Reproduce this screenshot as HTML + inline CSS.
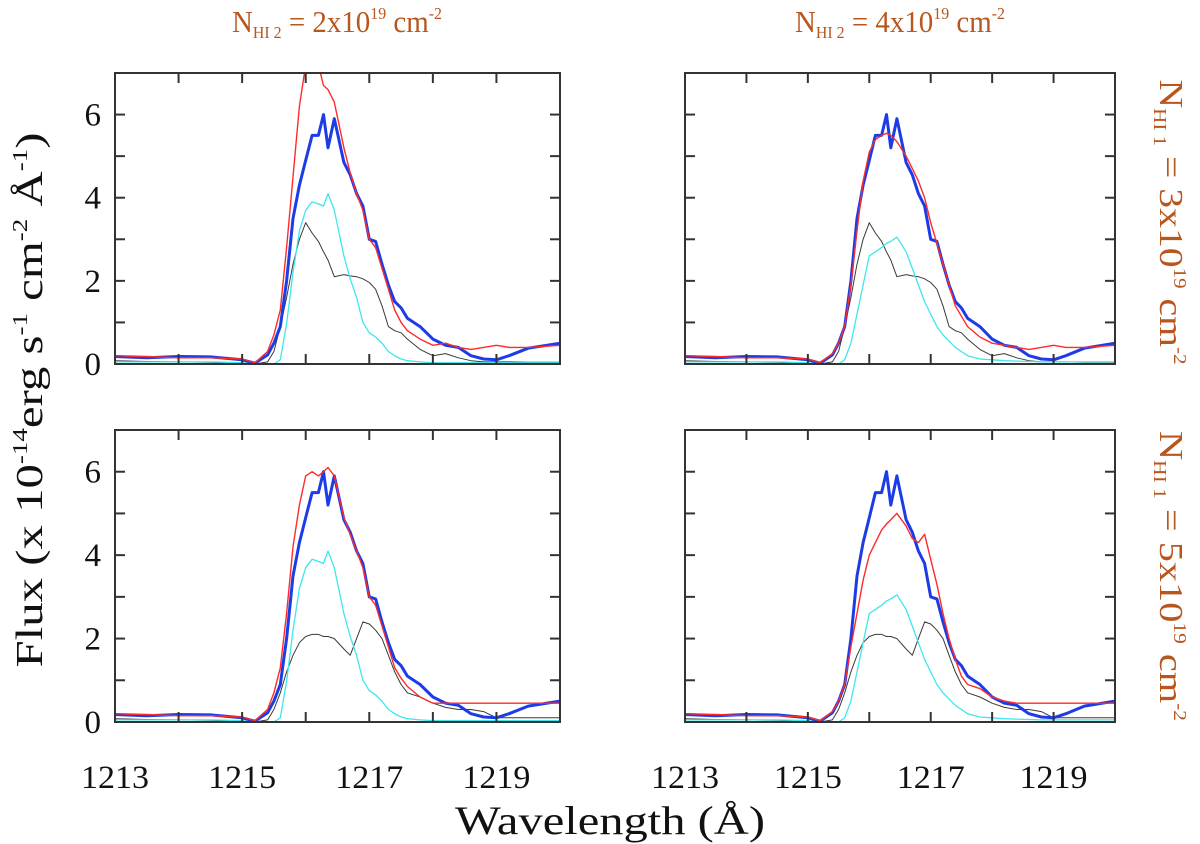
<!DOCTYPE html>
<html><head><meta charset="utf-8"><style>body{margin:0;background:#fff}svg{display:block}text{font-family:"Liberation Serif",serif}</style></head>
<body>
<svg id="fig" width="1200" height="844" viewBox="0 0 1200 844">
<g id="labels" fill="#b8561e" font-size="31">
<text x="337" y="32" text-anchor="middle" textLength="210" lengthAdjust="spacingAndGlyphs">N<tspan font-size="17" dy="6">HI 2</tspan><tspan dy="-6"> = 2x10</tspan><tspan font-size="17" dy="-13">19</tspan><tspan dy="13">  cm</tspan><tspan font-size="17" dy="-13">-2</tspan></text>
<text x="900" y="32" text-anchor="middle" textLength="210" lengthAdjust="spacingAndGlyphs">N<tspan font-size="17" dy="6">HI 2</tspan><tspan dy="-6"> = 4x10</tspan><tspan font-size="17" dy="-13">19</tspan><tspan dy="13">  cm</tspan><tspan font-size="17" dy="-13">-2</tspan></text>
<text transform="translate(1160,222) rotate(90)" text-anchor="middle" font-size="34" textLength="285" lengthAdjust="spacingAndGlyphs">N<tspan font-size="18" dy="6">HI 1</tspan><tspan dy="-6"> = 3x10</tspan><tspan font-size="18" dy="-14">19</tspan><tspan dy="14">  cm</tspan><tspan font-size="18" dy="-14">-2</tspan></text>
<text transform="translate(1160,576) rotate(90)" text-anchor="middle" font-size="34" textLength="290" lengthAdjust="spacingAndGlyphs">N<tspan font-size="18" dy="6">HI 1</tspan><tspan dy="-6"> = 5x10</tspan><tspan font-size="18" dy="-14">19</tspan><tspan dy="14">  cm</tspan><tspan font-size="18" dy="-14">-2</tspan></text>
</g>
<text x="610" y="834" text-anchor="middle" font-size="40" textLength="310" lengthAdjust="spacingAndGlyphs" fill="#111">Wavelength (Å)</text>
<text transform="translate(42,400) rotate(-90)" text-anchor="middle" font-size="38" textLength="535" lengthAdjust="spacingAndGlyphs" fill="#111">Flux  (x 10<tspan font-size="21" dy="-15">-14</tspan><tspan dy="15">erg s</tspan><tspan font-size="21" dy="-15">-1</tspan><tspan dy="15"> cm</tspan><tspan font-size="21" dy="-15">-2</tspan><tspan dy="15"> Å</tspan><tspan font-size="21" dy="-15">-1</tspan><tspan dy="15">)</tspan></text>
</svg>
<script>
const wavelengths=[1213,1213.5,1214,1214.5,1215,1215.2,1215.4,1215.5,1215.6,1215.7,1215.8,1215.9,1216,1216.1,1216.2,1216.28,1216.35,1216.45,1216.6,1216.7,1216.8,1216.9,1217,1217.1,1217.2,1217.3,1217.4,1217.5,1217.6,1217.8,1218,1218.2,1218.4,1218.6,1218.8,1219,1219.2,1219.5,1220];
const observedBlue=[0.18,0.15,0.18,0.17,0.1,0.02,0.22,0.5,0.9,2.0,3.5,4.3,4.9,5.5,5.5,6.0,5.2,5.9,4.85,4.55,4.1,3.8,3.0,2.95,2.4,1.9,1.5,1.35,1.1,0.9,0.6,0.45,0.4,0.2,0.12,0.1,0.2,0.38,0.5];
const redTL=[0.2,0.18,0.15,0.15,0.12,0.03,0.3,0.7,1.3,2.8,4.5,6.2,7.2,7.3,7.2,6.7,6.6,6.3,5.2,4.6,4.1,3.7,3.0,2.8,2.3,1.8,1.3,1.0,0.8,0.6,0.45,0.5,0.4,0.35,0.4,0.45,0.4,0.4,0.45];
const redTR=[0.2,0.18,0.15,0.15,0.12,0.03,0.25,0.5,0.9,1.9,3.2,4.4,5.1,5.4,5.5,5.55,5.5,5.35,5.0,4.7,4.4,4.0,3.4,2.9,2.4,1.9,1.4,1.15,0.9,0.65,0.5,0.45,0.4,0.35,0.4,0.45,0.4,0.4,0.45];
const redBL=[0.2,0.18,0.15,0.15,0.12,0.03,0.3,0.7,1.3,2.6,4.2,5.2,5.9,6.0,5.9,6.0,6.1,5.9,4.9,4.5,4.1,3.7,3.0,2.8,2.3,1.8,1.3,1.05,0.85,0.6,0.45,0.45,0.45,0.45,0.45,0.45,0.45,0.45,0.45];
const redBR=[0.2,0.18,0.15,0.15,0.12,0.03,0.25,0.5,0.9,1.8,2.6,3.4,4.0,4.3,4.6,4.75,4.85,5.0,4.7,4.4,4.3,4.5,3.9,3.3,2.6,2.0,1.5,1.1,0.9,0.8,0.6,0.5,0.45,0.45,0.45,0.45,0.45,0.45,0.45];
const cyanLeft=[0.05,0.05,0.05,0.05,0.03,0,0,0,0.1,0.97,2.2,3.2,3.7,3.9,3.85,3.8,4.1,3.7,2.6,2.05,1.6,1.0,0.75,0.65,0.5,0.3,0.2,0.12,0.08,0.05,0.03,0.03,0.03,0.03,0.03,0.03,0.03,0.03,0.03];
const cyanRight=[0.05,0.05,0.05,0.05,0.03,0,0,0,0.1,0.5,1.2,1.9,2.6,2.7,2.8,2.9,2.95,3.05,2.7,2.3,1.9,1.5,1.2,0.9,0.7,0.55,0.4,0.3,0.2,0.12,0.1,0.08,0.07,0.06,0.05,0.05,0.05,0.05,0.05];
const blackTop=[0.08,0.06,0.05,0.04,0.02,0,0.05,0.3,0.9,1.6,2.4,3.0,3.4,3.15,2.95,2.7,2.5,2.1,2.15,2.12,2.1,2.05,1.96,1.8,1.4,0.9,0.8,0.75,0.6,0.35,0.2,0.25,0.15,0.08,0.05,0.05,0.05,0.04,0.04];
const blackBottom=[0.08,0.06,0.05,0.04,0.02,0,0.05,0.3,0.7,1.2,1.6,1.9,2.05,2.1,2.1,2.05,2.05,2.0,1.75,1.6,2.0,2.4,2.35,2.2,2.0,1.6,1.2,0.9,0.7,0.6,0.45,0.35,0.3,0.3,0.25,0.1,0.1,0.1,0.1];
const yTickLabels=[0,2,4,6];
const xTickLabels=[1213,1215,1217,1219];

const NS='http://www.w3.org/2000/svg';
const svg=document.getElementById('fig');
function mk(tag,attrs,parent){const e=document.createElementNS(NS,tag);for(const k in attrs)e.setAttribute(k,attrs[k]);(parent||svg).appendChild(e);return e;}
const panels=[
 {name:'top-left',x0:115,x1:560,y0:73,y1:364,red:redTL,cyan:cyanLeft,black:blackTop,yl:true,xl:false},
 {name:'top-right',x0:685,x1:1115,y0:73,y1:364,red:redTR,cyan:cyanRight,black:blackTop,yl:false,xl:false},
 {name:'bottom-left',x0:115,x1:560,y0:430,y1:722,red:redBL,cyan:cyanLeft,black:blackBottom,yl:true,xl:true},
 {name:'bottom-right',x0:685,x1:1115,y0:430,y1:722,red:redBR,cyan:cyanRight,black:blackBottom,yl:false,xl:true}];
panels.forEach((p,i)=>{
 const sx=v=>p.x0+(v-1213)/(1220-1213)*(p.x1-p.x0);
 const sy=v=>p.y1-v/7*(p.y1-p.y0);
 const g=mk('g',{});
 
 
 const cp=mk('clipPath',{id:'cp'+i},g);mk('rect',{x:p.x0,y:p.y0,width:p.x1-p.x0,height:p.y1-p.y0},cp);
 const series=[['black-model',p.black,'#3a3a3a',1],['cyan-model',p.cyan,'#3ee6ee',1.3],['observed',observedBlue,'#1c3ce6',3],['red-model',p.red,'#ff2a2a',1.4]];
 series.forEach(s=>{
  const d=wavelengths.map((w,j)=>(j?'L':'M')+sx(w).toFixed(1)+' '+sy(s[1][j]).toFixed(1)).join(' ');
  const path=mk('path',{d:d,fill:'none',stroke:s[2],'stroke-width':s[3],'stroke-linejoin':'round','clip-path':'url(#cp'+i+')'},g);
  
  
 });
 const fr=mk('rect',{x:p.x0,y:p.y0,width:p.x1-p.x0,height:p.y1-p.y0,fill:'none',stroke:'#333','stroke-width':2},g);
 
 
 for(let v=1;v<7;v++){mk('line',{x1:p.x0,x2:p.x0+10,y1:sy(v),y2:sy(v),stroke:'#333','stroke-width':2},g);mk('line',{x1:p.x1,x2:p.x1-10,y1:sy(v),y2:sy(v),stroke:'#333','stroke-width':2},g);}
 for(let w=1214;w<1220;w++){mk('line',{x1:sx(w),x2:sx(w),y1:p.y0,y2:p.y0+10,stroke:'#333','stroke-width':2},g);mk('line',{x1:sx(w),x2:sx(w),y1:p.y1,y2:p.y1-10,stroke:'#333','stroke-width':2},g);}
 if(p.yl) yTickLabels.forEach(v=>{const t=mk('text',{x:p.x0-14,y:sy(v)+11,'text-anchor':'end','font-size':33,fill:'#111'},g);t.textContent=v;
  
  });
 if(p.xl) xTickLabels.forEach(v=>{const t=mk('text',{x:sx(v),y:p.y1+66,'text-anchor':'middle','font-size':33,textLength:68,lengthAdjust:'spacingAndGlyphs',fill:'#111'},g);t.textContent=v;
  
  });
});
</script>
</body></html>
